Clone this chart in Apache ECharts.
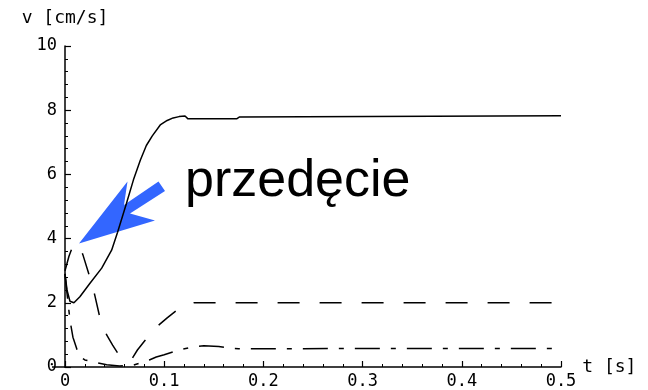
<!DOCTYPE html>
<html>
<head>
<meta charset="utf-8">
<script src="https://cdn.jsdelivr.net/npm/echarts@6/dist/echarts.min.js"></script>
<style>
  html, body { margin: 0; padding: 0; background: #fff; }
  #container { width: 648px; height: 390px; }
</style>
</head>
<body>
<div id="container"></div>
<script>
// velocity curves, t in s, v in cm/s
var tSolid = [0, 0.002, 0.005, 0.009, 0.015, 0.025, 0.037, 0.047, 0.053, 0.062, 0.069, 0.076, 0.082, 0.088, 0.096, 0.103, 0.109, 0.115, 0.121, 0.124, 0.173, 0.176, 0.5];
var vSolid = [2.9, 2.4, 2.05, 2.0, 2.19, 2.6, 3.08, 3.64, 4.2, 5.1, 5.83, 6.45, 6.9, 7.2, 7.54, 7.68, 7.76, 7.8, 7.82, 7.73, 7.73, 7.79, 7.83];

var tDashed = [0, 0.004, 0.007, 0.011, 0.015, 0.018, 0.025, 0.030, 0.035, 0.042, 0.048, 0.053, 0.058, 0.063, 0.068, 0.073, 0.080, 0.088, 0.095, 0.103, 0.112, 0.121, 0.130, 0.175, 0.5];
var vDashed = [3.0, 3.45, 3.7, 3.85, 3.75, 3.5, 2.8, 2.24, 1.56, 1.0, 0.68, 0.44, 0.25, 0.17, 0.28, 0.53, 0.8, 1.09, 1.32, 1.53, 1.75, 1.93, 2.0, 2.0, 2.0];

var tDashDot = [0, 0.002, 0.005, 0.008, 0.012, 0.015, 0.020, 0.030, 0.042, 0.055, 0.068, 0.075, 0.085, 0.092, 0.100, 0.110, 0.118, 0.128, 0.140, 0.155, 0.165, 0.175, 0.5];
var vDashDot = [2.9, 2.3, 1.46, 0.93, 0.55, 0.33, 0.22, 0.15, 0.07, 0.03, 0.05, 0.12, 0.22, 0.31, 0.38, 0.48, 0.55, 0.62, 0.66, 0.64, 0.59, 0.57, 0.58];

var xTicks = [0, 0.1, 0.2, 0.3, 0.4, 0.5];
var yTicks = [0, 2, 4, 6, 8, 10];

var monoFont = '"DejaVu Sans Mono", monospace';

function pairs(ts, vs) {
	var arr = [];
	for (var i = 0; i < ts.length; i++) {
		arr.push([ts[i], vs[i]]);
	}
	return arr;
}

var myChart = echarts.init(document.getElementById("container"));

var axisCommon = {
	axisLine: { onZero: true, lineStyle: { color: '#000', width: 1.5 } },
	axisTick: { inside: true, length: 6, lineStyle: { color: '#000', width: 1.2 } },
	minorTick: { show: true, splitNumber: 5, length: 3, lineStyle: { color: '#000', width: 1 } },
	splitLine: { show: false },
	minorSplitLine: { show: false }
};

var option = {
	animation: false,
	backgroundColor: '#fff',
	grid: { left: 65, right: 87, top: 46, bottom: 23 },
	xAxis: Object.assign({}, axisCommon, {
		type: 'value',
		min: xTicks[0],
		max: xTicks[xTicks.length - 1],
		interval: 0.1,
		name: 't [s]',
		nameLocation: 'end',
		nameGap: 21,
		nameTextStyle: { fontFamily: monoFont, fontSize: 18, color: '#000', verticalAlign: 'middle', padding: [6, 0, 0, 0] },
		axisLabel: { margin: 6, fontFamily: monoFont, fontSize: 17, color: '#000' }
	}),
	yAxis: Object.assign({}, axisCommon, {
		type: 'value',
		min: yTicks[0],
		max: yTicks[yTicks.length - 1],
		interval: 2,
		name: 'v [cm/s]',
		nameLocation: 'end',
		nameGap: 19,
		nameTextStyle: { fontFamily: monoFont, fontSize: 18, color: '#000', align: 'center', padding: [0, 0, 0, 0] },
		axisLabel: { margin: 8, fontFamily: monoFont, fontSize: 17, color: '#000' }
	}),
	series: [
		{
			type: 'line',
			data: pairs(tSolid, vSolid),
			showSymbol: false,
			lineStyle: { color: '#000', width: 1.5, type: 'solid' }
		},
		{
			type: 'line',
			data: pairs(tDashed, vDashed),
			showSymbol: false,
			lineStyle: { color: '#000', width: 1.5, type: [22, 20] }
		},
		{
			type: 'line',
			data: pairs(tDashDot, vDashDot),
			showSymbol: false,
			lineStyle: { color: '#000', width: 1.5, type: [25, 11, 5, 11] }
		}
	],
	graphic: [
		// x axis runs a little to the left of the origin
		{
			type: 'line',
			shape: { x1: 52, y1: 367, x2: 65, y2: 367 },
			style: { stroke: '#000', lineWidth: 1.5 }
		},
		// blue arrow pointing at the overshoot
		{
			type: 'polygon',
			shape: {
				points: [[79, 243.5], [127.5, 181.5], [124, 205], [158.5, 181.5], [165, 191], [130, 213.5], [155, 220.5]]
			},
			style: { fill: '#3366ff' }
		},
		{
			type: 'text',
			style: {
				text: 'przedęcie',
				x: 185,
				y: 182,
				font: '52px "Liberation Sans", Arial, sans-serif',
				fill: '#000',
				verticalAlign: 'middle'
			}
		}
	]
};

myChart.setOption(option, true);
</script>
</body>
</html>
